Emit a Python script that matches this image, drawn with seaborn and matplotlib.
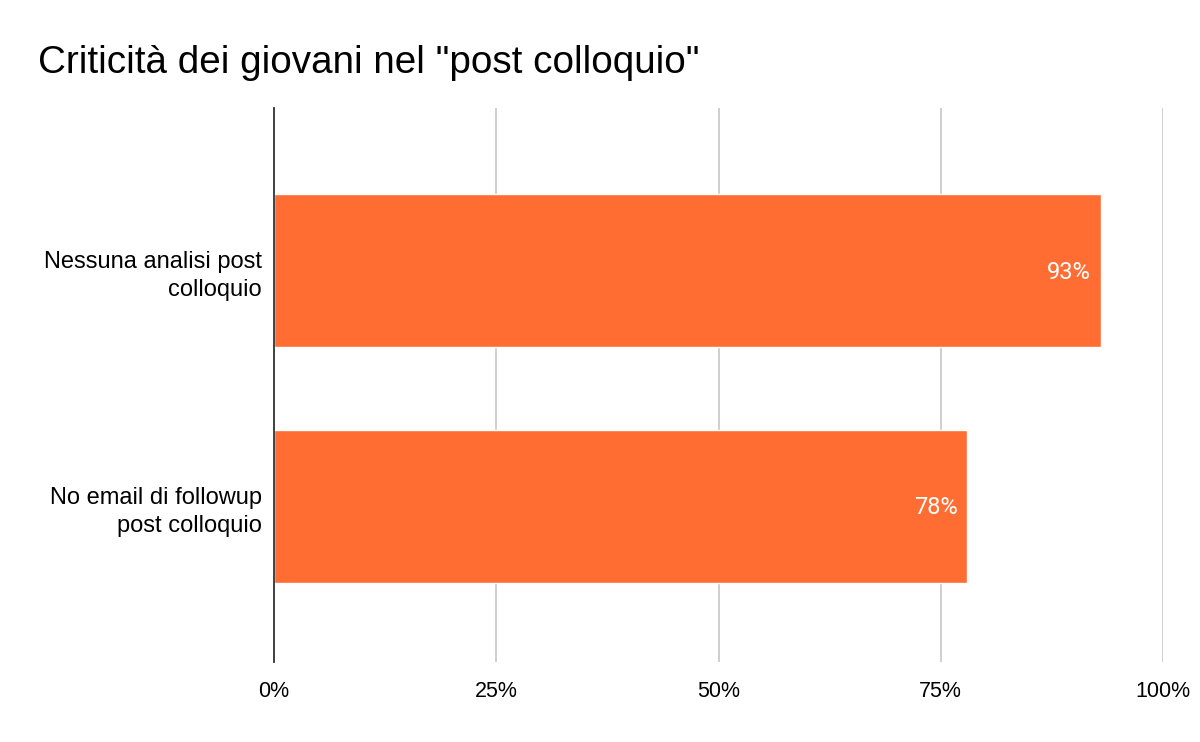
import pandas as pd
import matplotlib.pyplot as plt
import seaborn as sns
from matplotlib.ticker import PercentFormatter

# dati
categorie = ['Nessuna analisi post\ncolloquio', 'No email di followup\npost colloquio']
valori = [93, 78]
etichette = ['93%', '78%']

df = pd.DataFrame({'categoria': categorie, 'valore': valori})

sns.set_theme(style='white')
plt.rcParams['font.family'] = ['Liberation Sans', 'DejaVu Sans']

fig = plt.figure(figsize=(12, 7.42), dpi=100)
ax = fig.add_axes([274 / 1200, 1 - 662 / 742, 889 / 1200, 554 / 742])

sns.barplot(data=df, x='valore', y='categoria', color='#FF6D33', saturation=1,
            width=0.65, ax=ax, zorder=3)

ax.set_xlim(0, 100)
ax.set_ylim(1.66, -0.69)
ax.set_xticks([0, 25, 50, 75, 100])
ax.xaxis.set_major_formatter(PercentFormatter(decimals=0))
ax.grid(axis='x', color='#cccccc', linewidth=1.3, zorder=0)
ax.grid(axis='y', visible=False)
ax.set_xlabel('')
ax.set_ylabel('')

for s in ['top', 'right', 'bottom']:
    ax.spines[s].set_visible(False)
ax.spines['left'].set_color('#333333')
ax.spines['left'].set_linewidth(1.3)
ax.spines['left'].set_zorder(4)

ax.tick_params(axis='x', length=0, labelsize=15.5, colors='#000000', pad=14)
ax.tick_params(axis='y', length=0, labelsize=17, colors='#000000', pad=9)
for t in ax.get_yticklabels():
    t.set_linespacing(1.35)

# etichette dei valori dentro le barre, allineate a destra
for i, (v, lab) in enumerate(zip(valori, etichette)):
    ax.annotate(lab, xy=(v, i), xytext=(-7, -1), textcoords='offset points',
                ha='right', va='center', color='white', fontsize=17,
                family=['Roboto', 'Liberation Sans', 'DejaVu Sans'], zorder=5)

fig.text(38 / 1200, 1 - 73 / 742, 'Criticità dei giovani nel "post colloquio"',
         fontsize=27.8, va='baseline', ha='left', color='#000000')

fig.savefig('out.png', dpi=100, facecolor='white')
